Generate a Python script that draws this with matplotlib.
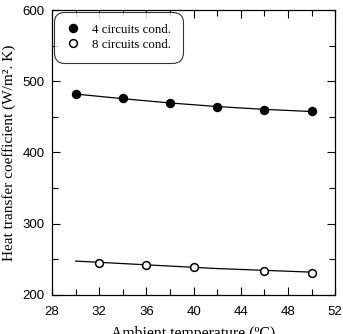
import matplotlib.pyplot as plt
from matplotlib.ticker import MultipleLocator

# measured points
x_4c = [30, 34, 38, 42, 46, 50]
h_4c = [482, 476, 470, 464, 460, 458]
x_8c = [32, 36, 40, 46, 50]
h_8c = [245, 242, 239, 234, 231]

# fitted trend lines
x_fit = [30, 34, 38, 42, 46, 50]
fit_4c = [482, 475.5, 469.5, 464.5, 460.5, 457.5]
fit_8c = [247.5, 244, 240.5, 237, 234.5, 232]

fig = plt.figure(figsize=(3.43, 3.34), dpi=100)
ax = fig.add_axes([0.152, 0.117, 0.825, 0.853])

ax.plot(x_fit, fit_4c, color='black', lw=0.9)
ax.plot(x_fit, fit_8c, color='black', lw=0.9)
ax.plot(x_4c, h_4c, 'o', color='black', ms=5.8, label='4 circuits cond.')
ax.plot(x_8c, h_8c, 'o', mfc='white', mec='black', mew=1.1, ms=5.6,
        label='8 circuits cond.')

ax.set_xlim(28, 52)
ax.set_ylim(200, 600)
ax.xaxis.set_major_locator(MultipleLocator(4))
ax.xaxis.set_minor_locator(MultipleLocator(2))
ax.yaxis.set_major_locator(MultipleLocator(100))
ax.yaxis.set_minor_locator(MultipleLocator(50))
ax.tick_params(which='both', direction='in', top=True, right=True, width=0.8,
               labelsize=9.5, labelfontfamily='Liberation Sans')
ax.tick_params(axis='x', which='both', pad=8)
ax.tick_params(axis='y', which='both', pad=5.5)
ax.tick_params(which='major', length=6)
ax.tick_params(which='minor', length=4)
for s in ax.spines.values():
    s.set_linewidth(0.9)

# the label sits partly below the figure edge, as in the source image
ax.set_xlabel('Ambient temperature (ºC)', family='Liberation Serif', fontsize=11.3)
ax.xaxis.set_label_coords(0.5, -0.11)
ax.set_ylabel('Heat transfer coefficient (W/m². K)', family='Liberation Serif',
              fontsize=11)
ax.yaxis.set_label_coords(-0.128, 0.5)

leg = ax.legend(loc='upper left', prop={'family': 'Liberation Serif', 'size': 9.3},
                frameon=True, fancybox=True, edgecolor='black', handletextpad=0.95,
                borderaxespad=0.15, borderpad=0.9, handlelength=1.1,
                labelspacing=0.25)
leg.get_frame().set_linewidth(0.8)
leg.get_frame().set_boxstyle('round,pad=0,rounding_size=0.8')

fig.savefig('out.png', dpi=100)
